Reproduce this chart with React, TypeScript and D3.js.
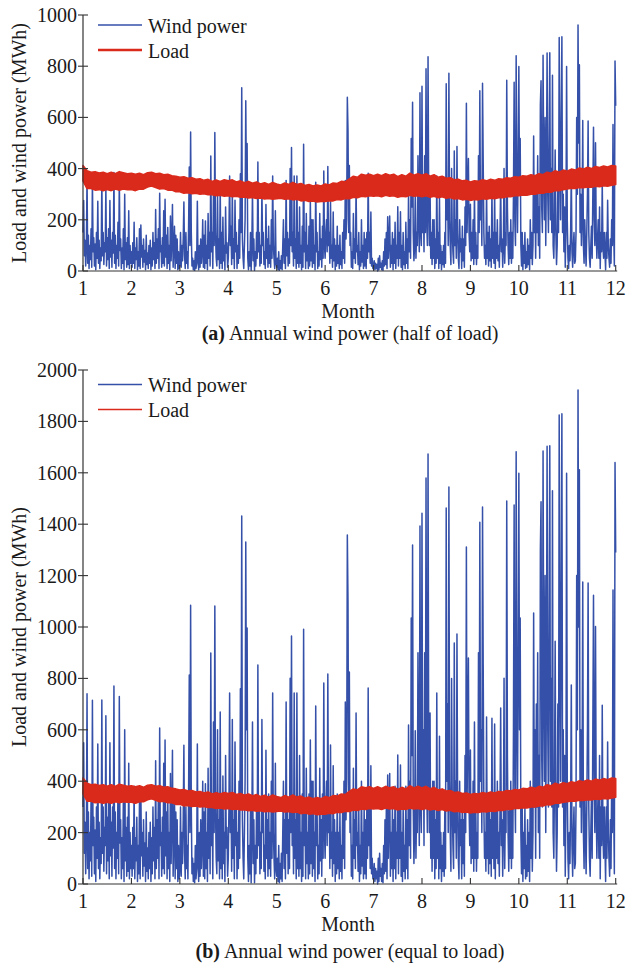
import React from 'react';
import * as d3 from 'd3';

// ---------- data ----------
const monthTicks = [1, 2, 3, 4, 5, 6, 7, 8, 9, 10, 11, 12];
const POINTS_PER_MONTH = 72;
// wind power, "equal to load" scenario (MWh), 72 samples per month (Nov ends at month 12)
const windJan = [
  300,550,120,240,40,180,740,60,280,20,200,90,
  330,30,715,150,260,40,210,10,300,100,545,60,
  240,20,180,80,716,120,300,50,220,150,655,40,
  260,90,330,20,550,110,240,30,300,140,770,60,
  280,20,200,100,380,40,730,160,250,20,180,60,
  330,10,600,90,220,30,260,50,470,20,200,60];
const windFeb = [
  150,30,220,60,380,20,180,90,260,10,150,40,
  330,20,360,110,200,30,250,70,160,10,280,50,
  140,20,200,60,240,10,180,40,300,90,220,20,
  480,60,250,100,330,20,607,150,200,30,260,60,
  470,40,560,110,280,20,340,60,200,10,430,80,
  250,520,30,180,350,20,280,60,250,10,150,20];
const windMar = [
  60,300,30,200,80,250,540,120,20,300,60,150,
  20,350,813,200,1085,300,40,100,10,80,5,150,
  20,60,545,80,10,200,30,250,60,150,400,30,
  280,20,390,60,200,10,450,100,300,40,899,150,
  300,20,630,200,1082,300,100,40,600,90,250,20,
  669,60,300,20,420,80,200,10,500,140,220,30];
const windApr = [
  100,300,743,200,350,50,640,100,250,20,553,150,
  300,20,200,60,400,100,760,300,1432,250,100,20,
  200,400,1331,600,996,100,10,150,40,300,5,200,
  630,80,250,5,150,40,300,100,852,150,300,40,
  200,60,640,200,300,50,150,20,520,100,250,30,
  350,60,200,30,400,100,743,200,100,20,470,60];
const windMay = [
  30,100,10,150,5,80,20,120,10,200,400,60,
  250,20,708,120,300,40,250,60,801,200,965,150,
  300,40,743,100,250,20,743,60,300,30,500,60,
  200,10,350,30,991,150,300,20,450,80,200,20,
  350,40,560,80,400,30,400,60,200,10,693,150,
  300,20,150,40,450,90,250,30,350,100,782,200];
const windJun = [
  100,300,400,150,817,200,300,60,541,100,200,30,
  460,80,250,10,200,40,350,60,200,20,280,50,
  150,20,300,100,400,60,708,250,400,1358,1097,300,
  825,200,300,30,150,20,450,100,250,60,665,150,
  200,50,300,10,150,40,400,70,200,20,300,40,
  250,20,300,100,763,150,300,60,460,40,100,20];
const windJul = [
  30,80,10,60,20,50,0,100,10,120,30,60,
  10,80,5,150,40,250,50,300,20,424,100,250,
  430,30,200,60,300,10,250,60,380,20,200,100,
  502,40,300,100,463,30,200,10,300,50,150,20,
  380,60,250,20,619,150,400,100,1035,500,1319,300,
  80,200,596,100,300,200,900,400,150,1393,300,200];
const windAug = [
  1443,300,600,150,900,300,1580,400,200,1673,500,200,
  665,100,300,50,400,100,400,20,250,60,743,100,
  300,20,575,60,200,10,150,50,200,30,300,60,
  1463,400,700,200,1545,400,200,50,800,300,150,60,
  938,200,400,100,973,300,100,20,400,150,250,20,
  350,80,250,30,500,200,1311,300,600,879,300,150];
const windSep = [
  521,80,300,100,400,50,630,100,300,50,200,100,
  900,300,1408,400,600,200,1467,852,300,100,200,50,
  650,100,300,40,350,80,250,30,645,100,300,60,
  623,20,300,100,400,80,200,30,300,685,150,250,
  30,200,801,60,300,200,1490,500,200,50,300,100,
  400,60,300,100,600,1475,400,200,1682,700,300,900];
const windOct = [
  1598,600,1035,200,40,300,10,200,60,300,20,150,
  30,250,50,200,10,400,100,300,50,200,1054,300,
  600,100,700,300,900,200,500,100,1300,1487,500,300,
  1685,800,400,1200,200,800,1703,600,300,1000,1705,400,
  800,300,1530,200,100,400,945,300,50,200,700,300,
  1825,900,400,1200,1830,300,600,150,500,30,300,1598];
const windNov = [
  400,100,20,200,80,300,774,150,30,200,300,60,
  80,300,1200,600,1922,1000,1612,300,600,200,400,1175,
  200,60,400,200,40,300,600,1171,300,100,30,200,
  350,100,600,1124,400,200,1002,300,100,250,400,100,
  500,20,300,150,696,200,100,300,150,10,300,100,
  553,200,100,30,250,60,400,200,1144,300,40,1640,
  1290];
const windByMonth = [windJan, windFeb, windMar, windApr, windMay, windJun, windJul, windAug, windSep, windOct, windNov];

// load envelope (MWh), 12 samples per month
const LOAD_PER_MONTH = 12;
const loadUpper = [
  412,392,386,388,383,386,380,386,380,388,384,380,
  382,378,382,376,384,386,380,382,376,378,372,370,
  366,368,362,364,358,360,354,358,350,355,350,356,
  352,356,348,352,345,350,343,348,340,345,338,346,
  340,336,344,338,346,338,342,334,338,332,336,332,
  340,336,344,342,350,348,360,370,366,378,374,378,
  372,378,372,380,374,378,368,376,370,382,374,380,
  374,380,370,376,366,370,362,364,356,358,352,354,
  348,352,350,356,352,358,354,360,358,364,362,368,
  366,372,370,376,372,380,376,386,382,392,386,394,
  390,398,394,402,398,405,400,408,404,410,406,412,
  410];
const loadLower = [
  352,322,322,316,318,314,318,314,320,316,320,318,
  318,314,320,320,328,332,326,320,322,316,316,310,
  310,304,306,302,304,300,302,298,298,294,296,292,
  294,290,292,288,289,285,287,283,285,281,283,280,
  282,284,280,282,278,280,274,276,272,274,270,272,
  272,275,274,279,278,283,282,288,286,292,290,294,
  292,294,290,296,292,294,288,292,290,296,292,294,
  290,294,288,292,286,290,284,287,281,283,278,280,
  276,279,278,282,280,284,282,286,286,290,290,294,
  294,297,296,300,300,304,304,309,308,314,314,318,
  320,323,322,326,325,328,327,331,329,333,331,335,
  338];

const panelTags = ['(a)', '(b)'];
const panelTitles = [' Annual wind power (half of load)', ' Annual wind power (equal to load)'];
const panelYMax = [1000, 2000];
const panelYTicks = [
  [0, 200, 400, 600, 800, 1000],
  [0, 200, 400, 600, 800, 1000, 1200, 1400, 1600, 1800, 2000],
];
const windShare = [0.5, 1]; // wind energy relative to "equal to load"
const legendLabels = ['Wind power', 'Load'];

// ---------- layout ----------
const layout = [
  { top: 15, bottom: 271, legendY: 25, titleY: 340 },
  { top: 370, bottom: 884, legendY: 384.5, titleY: 958 },
];
const BLUE = '#3450a9';
const RED = '#da2a1c';
const AXIS = '#333';
const TEXT = '#1a1a1a';
const FONT = "'Liberation Serif','Times New Roman',serif";

const x = d3.scaleLinear().domain([1, 12]).range([83, 615.7]);

const windPts: [number, number][] = windByMonth.flatMap((arr, k) =>
  arr.map((v, i) => [k + 1 + i / POINTS_PER_MONTH, v] as [number, number])
);
const loadPts: [number, number, number][] = loadUpper.map(
  (u, i) => [1 + i / LOAD_PER_MONTH, u, loadLower[i]] as [number, number, number]
);

function Panel({ idx }: { idx: number }) {
  const L = layout[idx];
  const y = d3.scaleLinear().domain([0, panelYMax[idx]]).range([L.bottom, L.top]);
  const share = windShare[idx];
  const windLine = d3
    .line<[number, number]>()
    .x((d) => x(d[0]))
    .y((d) => y(d[1] * share));
  const loadArea = d3
    .area<[number, number, number]>()
    .x((d) => x(d[0]))
    .y0((d) => y(d[2]))
    .y1((d) => y(d[1]));
  const x0 = x(1);
  const x1 = x(12) + 1.5;
  return (
    <g>
      <path d={windLine(windPts) || ''} fill="none" stroke={BLUE} strokeWidth={1.5} strokeLinejoin="round" />
      <path d={loadArea(loadPts) || ''} fill={RED} stroke={RED} strokeWidth={1.6} strokeLinejoin="round" />
      {/* axes */}
      <line x1={x0} y1={L.top} x2={x0} y2={L.bottom} stroke={AXIS} strokeWidth={1.2} />
      <line x1={x0} y1={L.bottom} x2={x1} y2={L.bottom} stroke={AXIS} strokeWidth={1.2} />
      {panelYTicks[idx].map((t) => (
        <g key={t}>
          <line x1={x0 - 5} x2={x0 + 5} y1={y(t)} y2={y(t)} stroke={AXIS} strokeWidth={1.1} />
          <text x={x0 - 6} y={y(t)} dy="0.35em" textAnchor="end" fontSize={20} fill={TEXT}>
            {t}
          </text>
        </g>
      ))}
      {monthTicks.map((m) => (
        <g key={m}>
          <line x1={x(m)} x2={x(m)} y1={L.bottom} y2={L.bottom - 6} stroke={AXIS} strokeWidth={1.1} />
          <text x={x(m)} y={L.bottom + 24} textAnchor="middle" fontSize={20} fill={TEXT}>
            {m}
          </text>
        </g>
      ))}
      <text x={348} y={L.bottom + 47} textAnchor="middle" fontSize={20} fill={TEXT}>
        Month
      </text>
      <text
        transform={`translate(26,${(L.top + L.bottom) / 2}) rotate(-90)`}
        textAnchor="middle"
        fontSize={20}
        fill={TEXT}
      >
        Load and wind power (MWh)
      </text>
      {/* legend */}
      {legendLabels.map((lab, i) => (
        <g key={lab}>
          <line
            x1={98}
            x2={142}
            y1={L.legendY + i * 25}
            y2={L.legendY + i * 25}
            stroke={i === 0 ? BLUE : RED}
            strokeWidth={idx === 0 ? (i === 0 ? 1.4 : 2.4) : 1.3}
          />
          <text x={148} y={L.legendY + i * 25 + 7.5} fontSize={20} fill={TEXT}>
            {lab}
          </text>
        </g>
      ))}
      <text x={350} y={L.titleY} textAnchor="middle" fontSize={20} fill={TEXT}>
        <tspan fontWeight="bold">{panelTags[idx]}</tspan>
        {panelTitles[idx]}
      </text>
    </g>
  );
}

export default function App() {
  return (
    <svg
      width={627}
      height={969}
      style={{ position: 'absolute', left: 0, top: 0, background: '#fff' }}
      fontFamily={FONT}
    >
      <rect width={627} height={969} fill="#fff" />
      <Panel idx={0} />
      <Panel idx={1} />
    </svg>
  );
}
